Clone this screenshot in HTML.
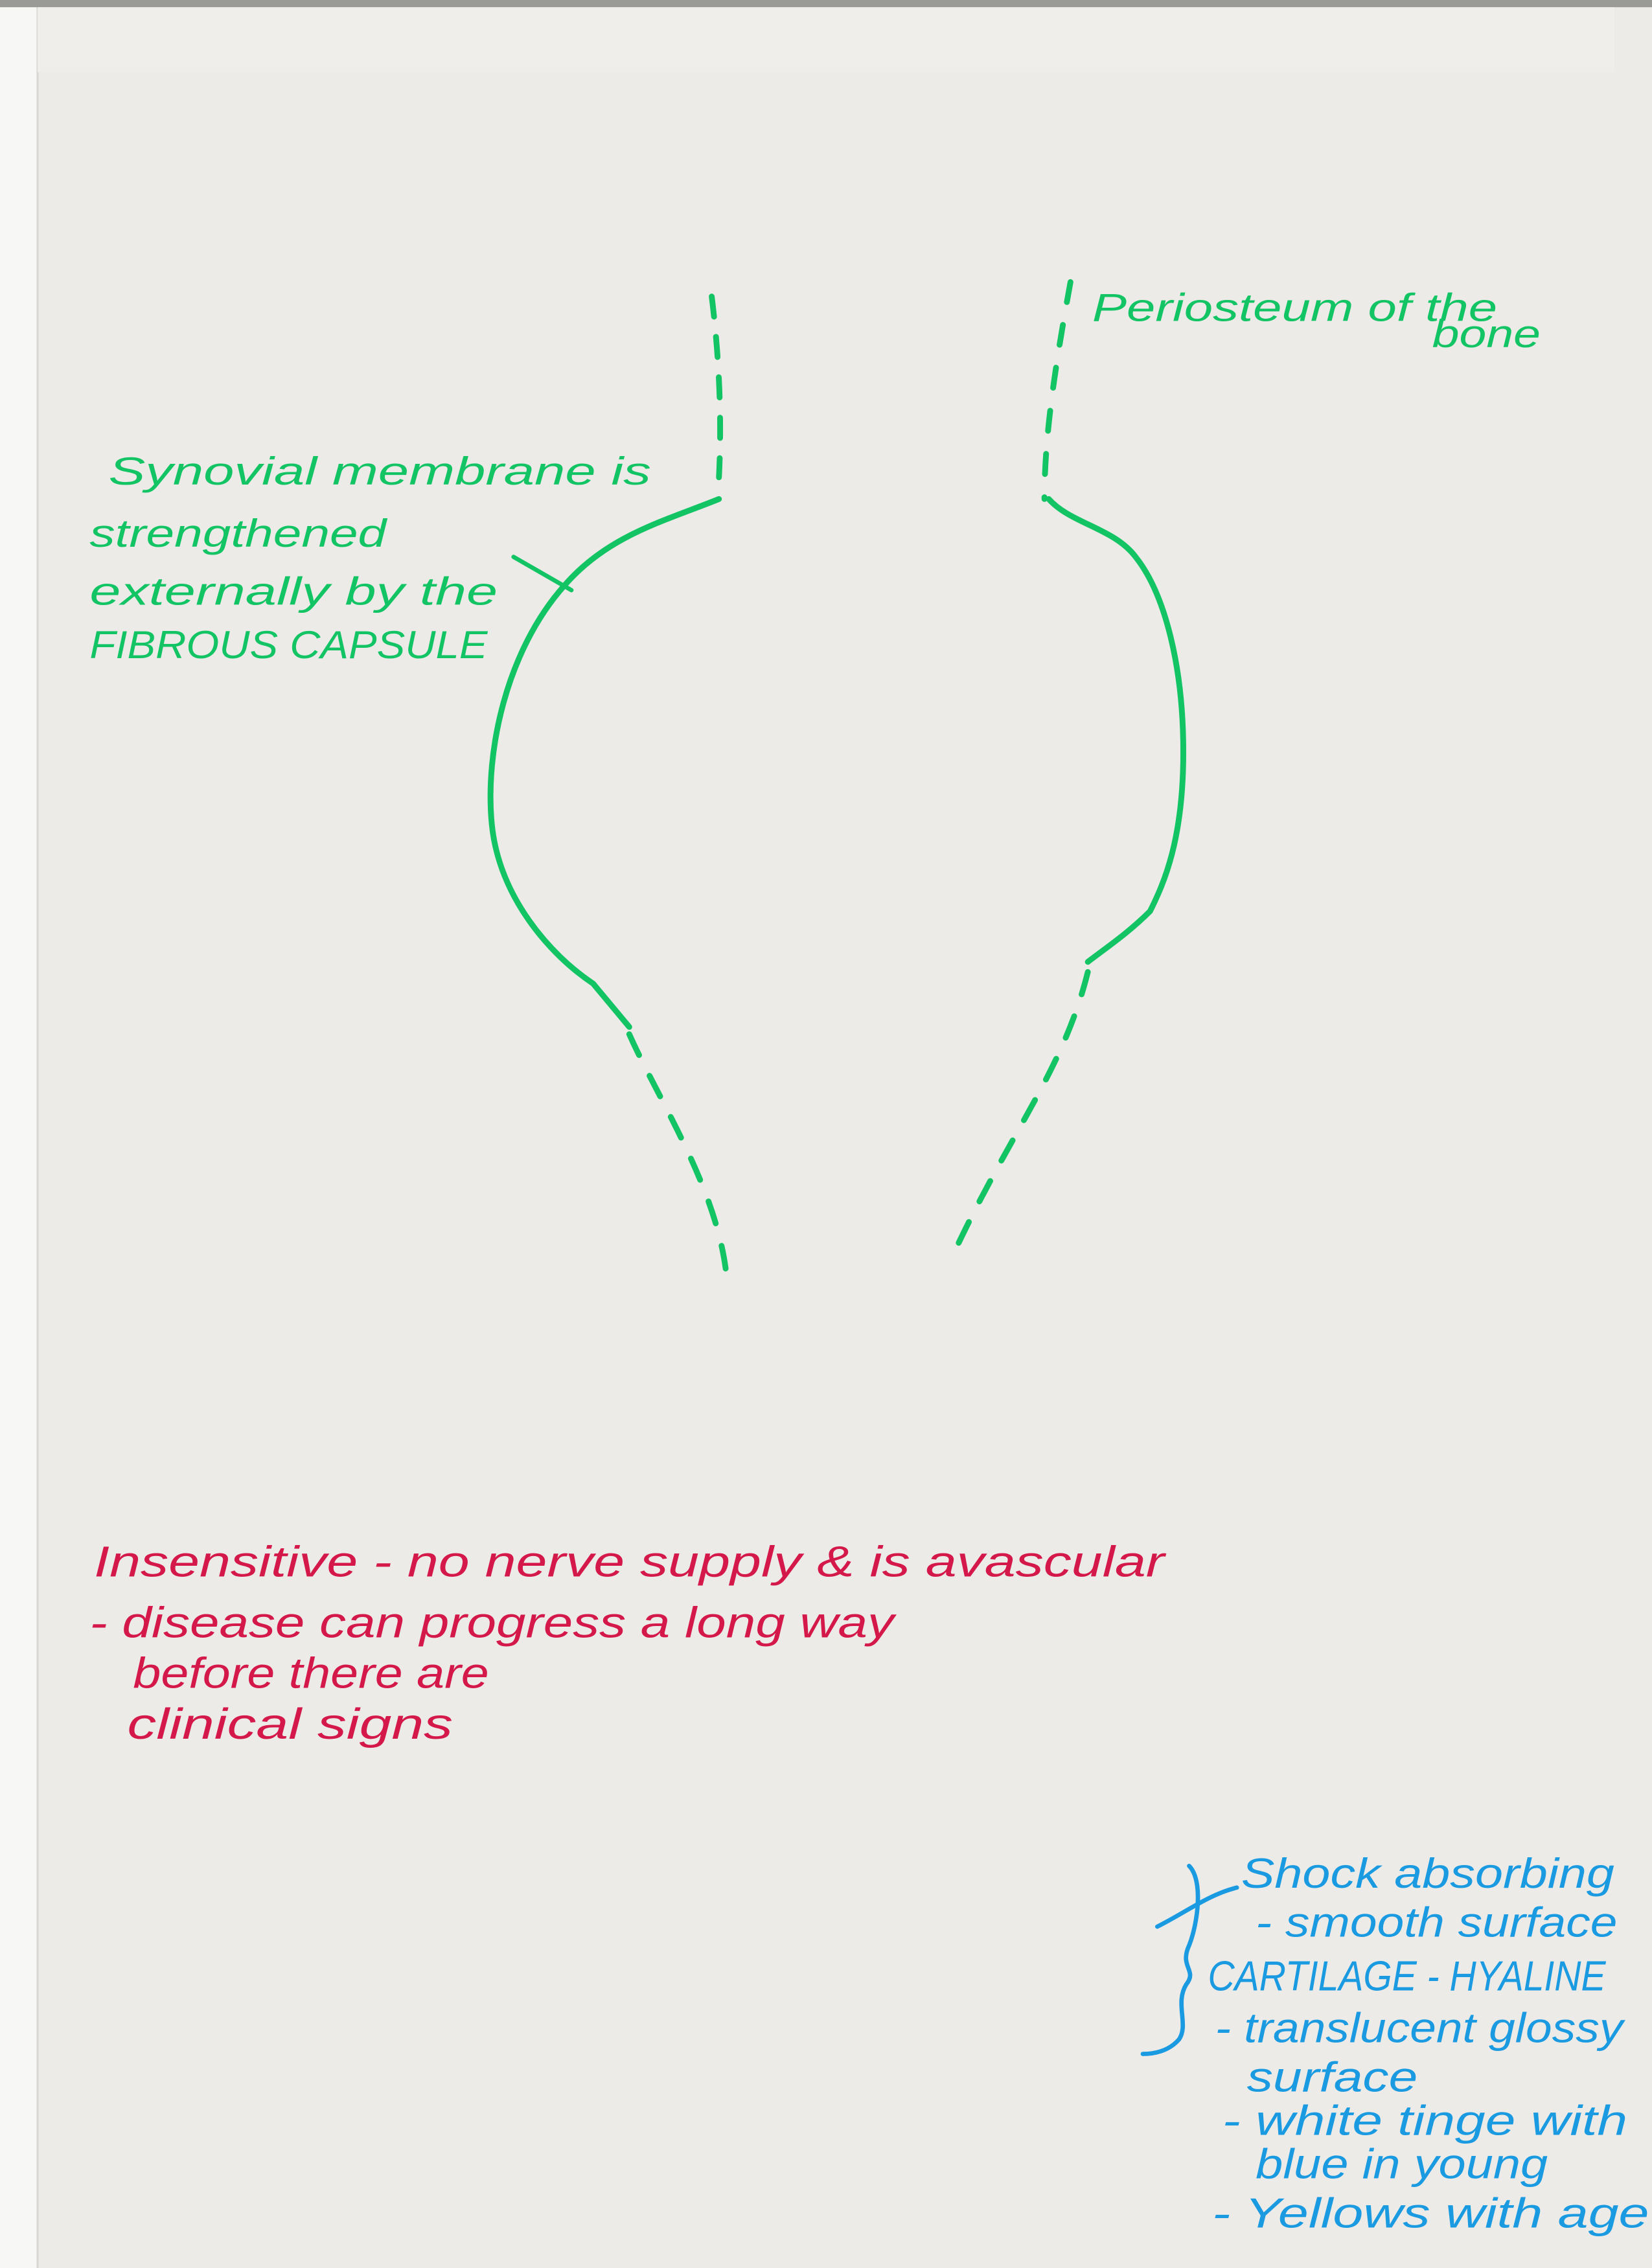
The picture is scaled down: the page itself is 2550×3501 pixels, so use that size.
<!DOCTYPE html>
<html><head><meta charset="utf-8"><style>
html,body{margin:0;padding:0;background:#ecebe8;}
svg{display:block;}
text{font-family:"Liberation Sans",sans-serif;font-style:italic;}
</style></head><body>
<svg width="2550" height="3501" viewBox="0 0 1142 1568" preserveAspectRatio="none" xmlns="http://www.w3.org/2000/svg">
<rect x="0" y="0" width="1142" height="1568" fill="#ecebe8"/>
<rect x="0" y="0" width="26" height="1568" fill="#f7f7f5"/>
<line x1="26" y1="0" x2="26" y2="1568" stroke="#d8d8d4" stroke-width="1.5"/>
<rect x="0" y="0" width="1142" height="5" fill="#9a9a96"/>
<rect x="26" y="5" width="1090" height="45" fill="#efeeeb"/>
<g fill="none" stroke="#12c464" stroke-width="4" stroke-linecap="round">
<path d="M492,205 Q500,270 497,330" stroke-dasharray="14,14"/>
<path d="M497,345 C460,360 420,370 390,405 C350,450 335,520 340,570 C345,620 380,660 410,680 L435,710"/>
<path d="M435,715 C455,760 495,820 502,880" stroke-dasharray="16,16"/>
<path d="M740,195 C730,250 722,300 722,345" stroke-dasharray="14,16"/>
<path d="M725,345 C740,362 770,365 785,385 C805,410 818,460 818,520 C818,580 805,610 795,630 C780,645 765,655 752,665"/>
<path d="M752,672 C735,740 700,780 660,865" stroke-dasharray="16,16"/>
<line x1="355" y1="385" x2="395" y2="408" stroke-width="3"/>
</g>
<g fill="#12c464" font-size="27">
<text x="75" y="335" textLength="375" lengthAdjust="spacingAndGlyphs">Synovial membrane is</text>
<text x="62" y="378" textLength="205" lengthAdjust="spacingAndGlyphs">strengthened</text>
<text x="62" y="418" textLength="282" lengthAdjust="spacingAndGlyphs">externally by the</text>
<text x="62" y="455" textLength="275" lengthAdjust="spacingAndGlyphs">FIBROUS CAPSULE</text>
<text x="755" y="222" textLength="280" lengthAdjust="spacingAndGlyphs">Periosteum of the</text>
<text x="990" y="240" textLength="75" lengthAdjust="spacingAndGlyphs">bone</text>
</g>
<g fill="#d4184a" font-size="30">
<text x="65" y="1090" textLength="740" lengthAdjust="spacingAndGlyphs">Insensitive - no nerve supply &amp; is avascular</text>
<text x="62" y="1132" textLength="556" lengthAdjust="spacingAndGlyphs">- disease can progress a long way</text>
<text x="92" y="1167" textLength="246" lengthAdjust="spacingAndGlyphs">before there are</text>
<text x="88" y="1202" textLength="225" lengthAdjust="spacingAndGlyphs">clinical signs</text>
</g>
<g fill="#1a9ae0" font-size="29">
<text x="858" y="1305" textLength="258" lengthAdjust="spacingAndGlyphs">Shock absorbing</text>
<text x="868" y="1339" textLength="250" lengthAdjust="spacingAndGlyphs">- smooth surface</text>
<text x="835" y="1376" textLength="275" lengthAdjust="spacingAndGlyphs">CARTILAGE - HYALINE</text>
<text x="840" y="1412" textLength="282" lengthAdjust="spacingAndGlyphs">- translucent glossy</text>
<text x="862" y="1446" textLength="118" lengthAdjust="spacingAndGlyphs">surface</text>
<text x="845" y="1476" textLength="280" lengthAdjust="spacingAndGlyphs">- white tinge with</text>
<text x="868" y="1506" textLength="202" lengthAdjust="spacingAndGlyphs">blue in young</text>
<text x="838" y="1540" textLength="302" lengthAdjust="spacingAndGlyphs">- Yellows with age</text>
</g>
<g fill="none" stroke="#1a9ae0" stroke-width="3" stroke-linecap="round">
<path d="M822,1290 C832,1300 828,1330 822,1345 C815,1360 828,1362 820,1372 C812,1385 822,1400 815,1410 C808,1418 798,1420 790,1420"/>
<path d="M800,1332 C820,1322 835,1310 855,1305"/>
</g>
</svg>
</body></html>
